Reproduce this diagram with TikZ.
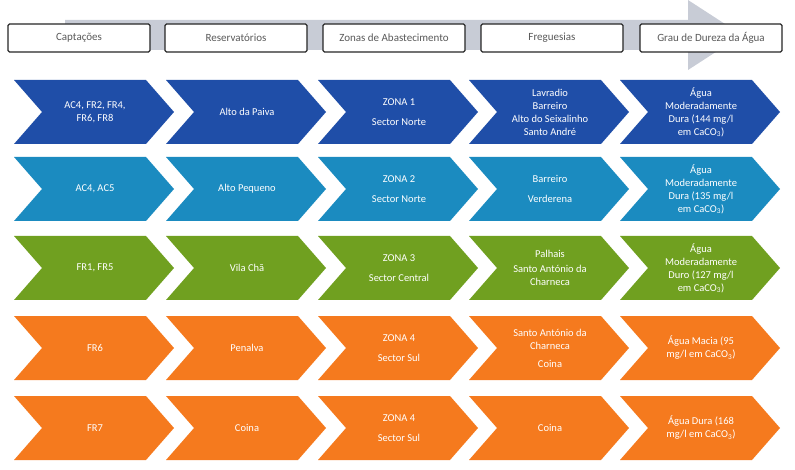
\documentclass[tikz,border=0pt]{standalone}
\usepackage{fontspec}
\setmainfont{Carlito}
\usepackage{tikz}

\definecolor{arrowgray}{RGB}{200,204,214}
\definecolor{rowblue}{RGB}{31,78,168}
\definecolor{rowcyan}{RGB}{27,139,192}
\definecolor{rowgreen}{RGB}{112,160,32}
\definecolor{roworange}{RGB}{245,122,30}

\begin{document}
\begin{tikzpicture}[x=1pt,y=-1pt,
  hdr/.style={draw=black!85, line width=1.1pt, rounded corners=1.5pt, fill=white,
    minimum width=142pt, minimum height=28pt, inner sep=1pt,
    font=\fontsize{11}{13}\selectfont, text=black!65},
  lbl/.style={text=white, font=\fontsize{10.5}{13}\selectfont, align=center, inner sep=0pt},
  chev/.style={fill=#1}]

\useasboundingbox (0,0) rectangle (795,470);

% big arrow behind the headers
\fill[arrowgray] (65,20) -- (688,20) -- (688,0) -- (742,35) -- (688,70) -- (688,50) -- (65,50) -- cycle;

\foreach \x/\t [count=\i] in {79/Captações, 236/Reservatórios, 394/Zonas de Abastecimento,
    552/Freguesias, 711/Grau de Dureza da Água}
    \node[hdr] (h\i) at (\x,38) {\t};

% chevrons, one row per colour
\foreach \y/\col [count=\r] in {80/rowblue, 157/rowcyan, 236/rowgreen, 316/roworange, 396/roworange}
  \foreach \x in {14,166,318,469,620}
    \fill[chev=\col] (\x,\y) -- (\x+132,\y) -- (\x+160,\y+32) -- (\x+132,\y+64)
        -- (\x,\y+64) -- (\x+28,\y+32) -- cycle;

% row 1
\node[lbl] (c11) at (95,112) {AC4, FR2, FR4,\\FR6, FR8};
\node[lbl] (c12) at (247,112) {Alto da Paiva};
\node[lbl] (c13) at (399,112) {ZONA 1\\[7pt]Sector Norte};
\node[lbl] (c14) at (550,112) {Lavradio\\Barreiro\\Alto do Seixalinho\\Santo André};
\node[lbl] (c15) at (701,112) {Água\\Moderadamente\\Dura (144 mg/l\\em CaCO\textsubscript{3})};

% row 2
\node[lbl] (c21) at (95,189) {AC4, AC5};
\node[lbl] (c22) at (247,189) {Alto Pequeno};
\node[lbl] (c23) at (399,189) {ZONA 2\\[7pt]Sector Norte};
\node[lbl] (c24) at (550,189) {Barreiro\\[7pt]Verderena};
\node[lbl] (c25) at (701,189) {Água\\Moderadamente\\Dura (135 mg/l\\em CaCO\textsubscript{3})};

% row 3
\node[lbl] (c31) at (95,268) {FR1, FR5};
\node[lbl] (c32) at (247,268) {Vila Chã};
\node[lbl] (c33) at (399,268) {ZONA 3\\[7pt]Sector Central};
\node[lbl] (c34) at (550,268) {Palhais\\[2pt]Santo António da\\Charneca};
\node[lbl] (c35) at (701,268) {Água\\Moderadamente\\Duro (127 mg/l\\em CaCO\textsubscript{3})};

% row 4
\node[lbl] (c41) at (95,348) {FR6};
\node[lbl] (c42) at (247,348) {Penalva};
\node[lbl] (c43) at (399,348) {ZONA 4\\[7pt]Sector Sul};
\node[lbl] (c44) at (550,348) {Santo António da\\Charneca\\[5pt]Coina};
\node[lbl] (c45) at (701,348) {Água Macia (95\\mg/l em CaCO\textsubscript{3})};

% row 5
\node[lbl] (c51) at (95,428) {FR7};
\node[lbl] (c52) at (247,428) {Coina};
\node[lbl] (c53) at (399,428) {ZONA 4\\[7pt]Sector Sul};
\node[lbl] (c54) at (550,428) {Coina};
\node[lbl] (c55) at (701,428) {Água Dura (168\\mg/l em CaCO\textsubscript{3})};

\end{tikzpicture}
\end{document}
